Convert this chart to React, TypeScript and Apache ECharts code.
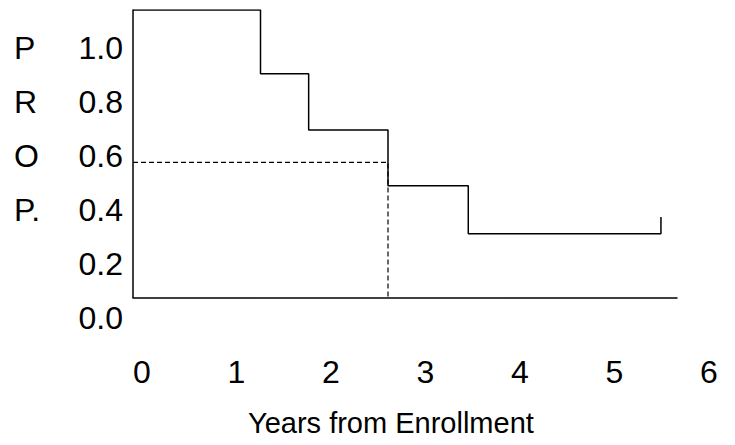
import { useEffect, useRef } from "react";
import * as echarts from "echarts";

// Kaplan-Meier style curve (times in years, proportion surviving)
const eventTimes = [0, 1.35, 1.86, 2.7, 3.55, 5.59];
const survivalProb = [1.0, 0.778, 0.583, 0.389, 0.222, 0.222];
const censorTime = 5.59;
const censorTop = 0.28;
const medianLevel = 0.47;
const medianTime = 2.7;

// tick labels
const xTickLabels = ["0", "1", "2", "3", "4", "5", "6"];
const yTickLabels = ["0.0", "0.2", "0.4", "0.6", "0.8", "1.0"];
const yLetters = ["", "", "P.", "O", "R", "P"];
const xTitle = "Years from Enrollment";

const FONT = "'Liberation Sans', Arial, Helvetica, sans-serif";
const LABEL_SIZE = 32;

export default function App() {
  const ref = useRef<HTMLDivElement>(null);

  useEffect(() => {
    if (!ref.current) return;
    const chart = echarts.init(ref.current, undefined, { renderer: "svg" });

    const curve: number[][] = [];
    for (let i = 0; i < eventTimes.length; i++) {
      curve.push([eventTimes[i], survivalProb[i]]);
      if (i + 1 < eventTimes.length) curve.push([eventTimes[i + 1], survivalProb[i]]);
    }
    curve.push([censorTime, censorTop]);

    const median = [
      [0, medianLevel],
      [medianTime, medianLevel],
      [medianTime, 0],
    ];

    const xMaxLabel = xTickLabels.length - 1;
    const yStep = 1 / (yTickLabels.length - 1);

    const hiddenAxisBits = {
      axisTick: { show: false },
      splitLine: { show: false },
    };

    chart.setOption({
      animation: false,
      backgroundColor: "#fff",
      textStyle: { fontFamily: FONT },
      title: {
        text: xTitle,
        left: 248,
        top: 408,
        padding: 0,
        textStyle: { fontFamily: FONT, fontSize: 29, fontWeight: "normal", color: "#000" },
      },
      grid: [
        { left: 133, top: 10, width: 544, height: 287.5 },
        { left: 142, top: 48, width: 567, height: 270 },
      ],
      xAxis: [
        {
          gridIndex: 0,
          type: "value",
          min: 0,
          max: 5.76,
          axisLine: { show: true, lineStyle: { color: "#000", width: 1.5 } },
          axisLabel: { show: false },
          ...hiddenAxisBits,
        },
        {
          gridIndex: 1,
          type: "value",
          min: 0,
          max: xMaxLabel,
          interval: 1,
          axisLine: { show: false },
          axisLabel: {
            show: true,
            margin: 38,
            fontSize: LABEL_SIZE,
            color: "#000",
            fontFamily: FONT,
            formatter: (v: number) => xTickLabels[Math.round(v)] ?? "",
          },
          ...hiddenAxisBits,
        },
      ],
      yAxis: [
        {
          gridIndex: 0,
          type: "value",
          min: 0,
          max: 1,
          axisLine: { show: true, lineStyle: { color: "#000", width: 1.5 } },
          axisLabel: { show: false },
          ...hiddenAxisBits,
        },
        {
          gridIndex: 1,
          type: "value",
          min: 0,
          max: 1,
          interval: yStep,
          axisLine: { show: false },
          axisLabel: {
            show: true,
            margin: 19,
            fontSize: LABEL_SIZE,
            color: "#000",
            fontFamily: FONT,
            formatter: (v: number) => yTickLabels[Math.round(v / yStep)] ?? "",
          },
          ...hiddenAxisBits,
        },
        {
          gridIndex: 1,
          type: "value",
          position: "left",
          min: 0,
          max: 1,
          interval: yStep,
          axisLine: { show: false },
          axisLabel: {
            show: true,
            margin: 128,
            align: "left",
            fontSize: LABEL_SIZE,
            color: "#000",
            fontFamily: FONT,
            formatter: (v: number) => yLetters[Math.round(v / yStep)] ?? "",
          },
          ...hiddenAxisBits,
        },
      ],
      series: [
        {
          type: "line",
          xAxisIndex: 0,
          yAxisIndex: 0,
          data: median,
          symbol: "none",
          lineStyle: { color: "#000", width: 1.2, type: [5, 3] },
          silent: true,
        },
        {
          type: "line",
          xAxisIndex: 0,
          yAxisIndex: 0,
          data: curve,
          symbol: "none",
          lineStyle: { color: "#000", width: 1.5 },
          silent: true,
        },
      ],
    });

    return () => chart.dispose();
  }, []);

  return (
    <div
      ref={ref}
      style={{ position: "absolute", left: 0, top: 0, width: 735, height: 445 }}
    />
  );
}
